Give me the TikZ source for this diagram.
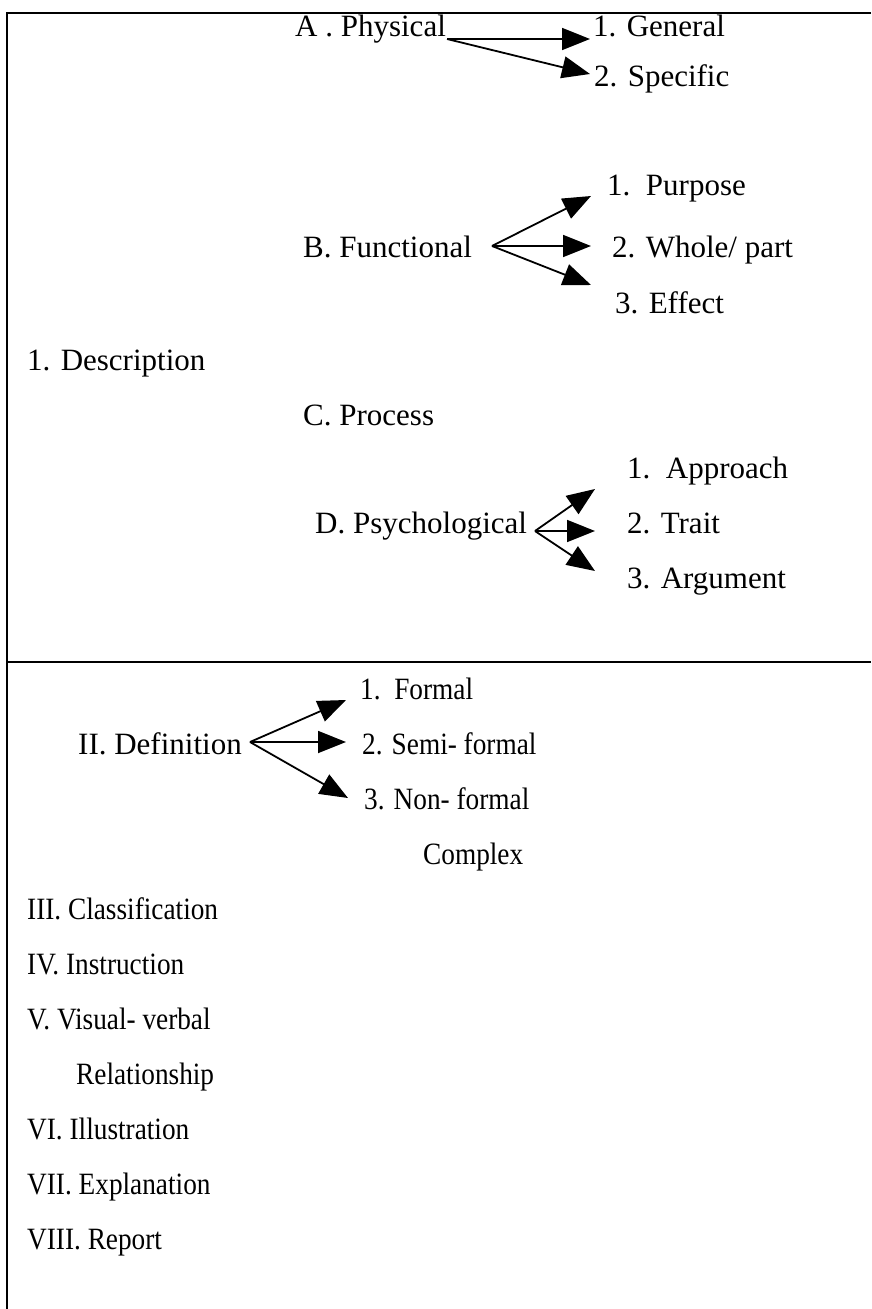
\documentclass[tikz,border=0pt]{standalone}
\usepackage{fontspec}
\setmainfont{Liberation Serif}
\usetikzlibrary{arrows.meta}
\tikzset{
  lbl/.style={anchor=base west, inner sep=0pt, font=\fontsize{31}{37}\selectfont},
  arr/.style={line width=1.8pt, -{Triangle[length=28pt,width=22pt]}},
  rule/.style={line width=2.2pt}
}
\newcommand{\cz}[1]{\scalebox{0.88}[1]{#1}}
\begin{document}
\begin{tikzpicture}[x=1pt,y=-1pt]
\useasboundingbox (0,0) rectangle (871,1309);
% frame
\draw[rule] (871,13) -- (7,13) -- (7,1309);
\draw[rule] (7,662) -- (871,662);
% upper half
\node[lbl] (physA) at (295,36) {A . Physical};
\node[lbl] (gen) at (593,36) {1. General};
\node[lbl] (spec) at (594,86) {2. Specific};
\node[lbl] (purp) at (607,195) {1.\ \ Purpose};
\node[lbl] (funcB) at (303,257) {B. Functional};
\node[lbl] (whole) at (612,257) {2. Whole/ part};
\node[lbl] (eff) at (615,313) {3. Effect};
\node[lbl] (desc) at (27,370) {1. Description};
\node[lbl] (procC) at (303,425) {C. Process};
\node[lbl] (appr) at (627,478) {1.\ \ Approach};
\node[lbl] (psyD) at (315,533) {D. Psychological};
\node[lbl] (trait) at (627,533) {2. Trait};
\node[lbl] (argu) at (627,588) {3. Argument};
% lower half
\node[lbl] (formal) at (360,699) {\cz{1.\ \ Formal}};
\node[lbl] (defII) at (78,754) {II. Definition};
\node[lbl] (semi) at (362,754) {\cz{2. Semi- formal}};
\node[lbl] (non) at (364,809) {\cz{3. Non- formal}};
\node[lbl] (complex) at (423,864) {\cz{Complex}};
\node[lbl] (cls) at (27,919) {\cz{III. Classification}};
\node[lbl] (ins) at (27,974) {\cz{IV. Instruction}};
\node[lbl] (vis) at (27,1029) {\cz{V. Visual- verbal}};
\node[lbl] (rel) at (76,1084) {\cz{Relationship}};
\node[lbl] (ill) at (27,1139) {\cz{VI. Illustration}};
\node[lbl] (expl) at (27,1194) {\cz{VII. Explanation}};
\node[lbl] (rep) at (27,1249) {\cz{VIII. Report}};
% arrow coordinates
\coordinate (pT) at (447,39);
\coordinate (pG) at (590,39);
\coordinate (pS) at (590,74);
\coordinate (fT) at (492,246);
\coordinate (fP) at (591,196);
\coordinate (fW) at (591,246);
\coordinate (fE) at (591,285);
\coordinate (sT) at (535,531);
\coordinate (sA) at (595,489);
\coordinate (sTr) at (595,531);
\coordinate (sAr) at (595,571);
\coordinate (dT) at (250,742);
\coordinate (dF) at (346,700);
\coordinate (dS) at (346,742);
\coordinate (dN) at (348,798);
% arrows
\draw[arr] (pT) -- (pG);
\draw[arr] (pT) -- (pS);
\draw[arr] (fT) -- (fP);
\draw[arr] (fT) -- (fW);
\draw[arr] (fT) -- (fE);
\draw[arr] (sT) -- (sA);
\draw[arr] (sT) -- (sTr);
\draw[arr] (sT) -- (sAr);
\draw[arr] (dT) -- (dF);
\draw[arr] (dT) -- (dS);
\draw[arr] (dT) -- (dN);
\end{tikzpicture}
\end{document}
